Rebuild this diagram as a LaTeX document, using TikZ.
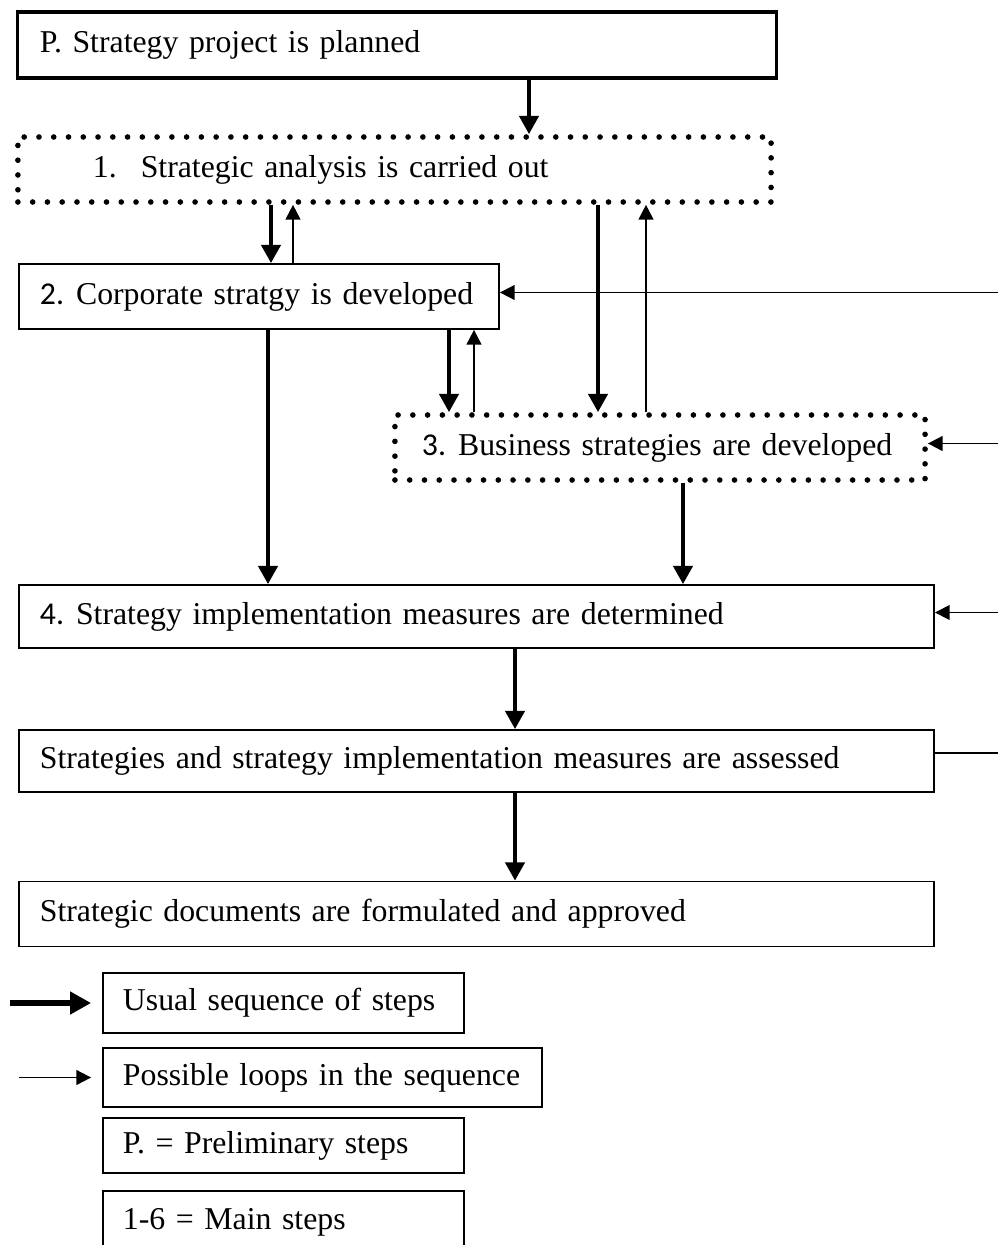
\documentclass[tikz,border=0pt]{standalone}
\usepackage{fontspec}
\setmainfont{Liberation Serif}
\newfontfamily\numfont{Carlito}
\usetikzlibrary{arrows.meta}

\tikzset{
  stepbox/.style={draw, line width=1.2pt, align=left, inner xsep=0.525cm,
    minimum height=1.625cm, font=\fontsize{22.6}{27}\selectfont},
  dotbox/.style={stepbox, line width=4pt, dash pattern=on 0pt off 10.5pt, line cap=round},
  usual/.style={-{Triangle[width=13.5pt,length=13pt]}, line width=3pt},
  back/.style={-{Triangle[width=10.5pt,length=10.5pt]}, line width=1.3pt},
}

\begin{document}
\begin{tikzpicture}[x=0.025cm,y=-0.025cm]
   \useasboundingbox (0,0) rectangle (998,1245);
   \clip (0,0) rectangle (998,1245);

   \node[stepbox, line width=2.2pt, inner xsep=0.55cm, text width=17.85cm, minimum height=1.65cm] (p) at (397,45) {P. Strategy project is planned};
   \node[dotbox, inner xsep=1.875cm, text width=15.075cm] (s1) at (394.5,169.5) {1.\hspace{0.6cm}Strategic analysis is carried out};
   \node[stepbox, text width=10.95cm] (s2) at (259,296.5) {{\numfont 2.}\hspace{0.3cm}Corporate stratgy is developed};
   \node[dotbox, inner xsep=0.675cm, text width=11.9cm] (s3) at (660,447.5) {{\numfont 3.}\hspace{0.3cm}Business strategies are developed};
   \node[stepbox, text width=21.825cm, minimum height=1.575cm] (s4) at (476.5,616.5) {{\numfont 4.}\hspace{0.3cm}Strategy implementation measures are determined};
   \node[stepbox, text width=21.825cm, minimum height=1.55cm] (s5) at (476.5,761) {Strategies and strategy implementation measures are assessed};
   \node[stepbox, text width=21.825cm] (s6) at (476.5,914) {Strategic documents are formulated and approved};

   % legend
   \node[stepbox, inner xsep=0.5cm, text width=8.025cm, minimum height=1.5cm] (la) at (283.5,1003) {Usual sequence of steps};
   \node[stepbox, inner xsep=0.5cm, text width=9.975cm, minimum height=1.475cm] (lb) at (322.5,1077.5) {Possible loops in the sequence};
   \node[stepbox, inner xsep=0.5cm, text width=8.025cm, minimum height=1.375cm] (lc) at (283.5,1145.5) {P. = Preliminary steps};
   \node[stepbox, inner xsep=0.5cm, text width=8.025cm, minimum height=1.55cm] (ld) at (283.5,1222) {1-6 = Main steps};

   \coordinate (xa) at (529,0);
   \coordinate (xb) at (271,0);
   \coordinate (xc) at (293,0);
   \coordinate (xd) at (598,0);
   \coordinate (xe) at (646,0);
   \coordinate (xf) at (449,0);
   \coordinate (xg) at (474,0);
   \coordinate (xh) at (268,0);
   \coordinate (xi) at (683,0);
   \coordinate (xj) at (515,0);
   \coordinate (rim) at (1000,0);
   \coordinate (ua) at (10,0);
   \coordinate (pa) at (19,0);
   \coordinate (e2) at ([yshift=0.1cm]s2.east);
   \coordinate (e3) at ([yshift=0.1cm]s3.east);
   \coordinate (e4) at ([yshift=0.1cm]s4.east);
   \coordinate (e5) at ([yshift=0.2cm]s5.east);

   \draw[usual] (p.south -| xa) -- (s1.north -| xa);
   \draw[usual] (s1.south -| xb) -- (s2.north -| xb);
   \draw[back] (s2.north -| xc) -- (s1.south -| xc);
   \draw[usual] (s1.south -| xd) -- (s3.north -| xd);
   \draw[back] (s3.north -| xe) -- (s1.south -| xe);
   \draw[usual] (s2.south -| xf) -- (s3.north -| xf);
   \draw[back] (s3.north -| xg) -- (s2.south -| xg);
   \draw[usual] (s2.south -| xh) -- (s4.north -| xh);
   \draw[usual] (s3.south -| xi) -- (s4.north -| xi);
   \draw[usual] (s4.south -| xj) -- (s5.north -| xj);
   \draw[usual] (s5.south -| xj) -- (s6.north -| xj);

   \draw[back] (rim |- e2) -- (e2);
   \draw[back] (rim |- e3) -- (e3);
   \draw[back] (rim |- e4) -- (e4);
   \draw[line width=1.3pt] (e5) -- (rim |- e5);

   \draw[-{Triangle[width=15.5pt,length=15pt]}, line width=4.5pt, shorten >=0.275cm] (ua |- la.west) -- (la.west);
   \draw[back, line width=1.4pt, shorten >=0.275cm] (pa |- lb.west) -- (lb.west);
\end{tikzpicture}
\end{document}
